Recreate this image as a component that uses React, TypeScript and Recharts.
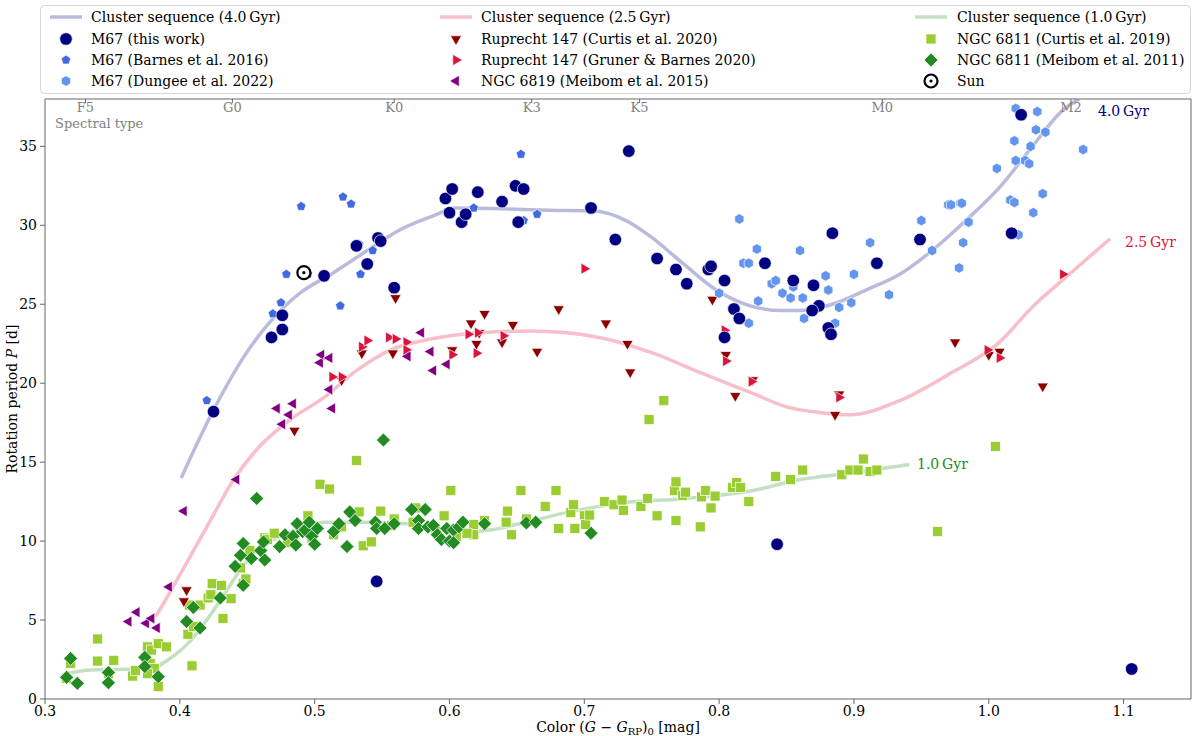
import React from 'react';
import { ComposedChart, Scatter, Line, XAxis, YAxis } from 'recharts';

type P = [number, number];

// ---------- data (color G-G_RP, period d) ----------
const m67ThisWork: P[] = [
  [0.425, 18.2], [0.468, 22.9], [0.476, 23.4], [0.476, 24.3], [0.507, 26.8], [0.531, 28.7],
  [0.539, 27.55], [0.547, 29.2], [0.549, 29.0], [0.559, 26.05], [0.546, 7.45], [0.597, 31.7],
  [0.602, 32.3], [0.600, 30.8], [0.609, 30.2], [0.612, 30.7], [0.621, 32.1], [0.639, 31.5],
  [0.649, 32.5], [0.655, 32.3], [0.651, 30.2], [0.705, 31.1], [0.733, 34.7], [0.723, 29.1],
  [0.754, 27.9], [0.768, 27.2], [0.776, 26.3], [0.792, 27.2], [0.794, 27.4], [0.804, 26.5],
  [0.811, 24.7], [0.815, 24.1], [0.804, 22.9], [0.834, 27.6], [0.855, 26.5], [0.843, 9.8],
  [0.870, 26.2], [0.874, 24.9], [0.869, 24.6], [0.881, 23.5], [0.883, 23.1], [0.884, 29.5],
  [0.917, 27.6], [0.949, 29.1], [1.017, 29.5], [1.024, 37.0], [1.106, 1.9],
];
const m67Barnes: P[] = [
  [0.420, 18.9], [0.469, 24.4], [0.475, 25.1], [0.479, 26.9], [0.490, 31.2], [0.495, 26.9],
  [0.519, 24.9], [0.521, 31.8], [0.527, 31.35], [0.534, 26.9], [0.543, 28.4], [0.533, 28.8],
  [0.618, 31.1], [0.653, 34.5], [0.655, 30.3], [0.665, 30.7], [0.650, 30.3],
];
const m67Dungee: P[] = [
  [0.795, 27.5], [0.800, 25.7], [0.815, 30.4], [0.818, 27.6], [0.822, 27.6], [0.822, 23.8],
  [0.828, 28.5], [0.829, 25.2], [0.839, 26.3], [0.842, 26.5], [0.847, 25.7], [0.853, 25.4],
  [0.855, 26.1], [0.860, 28.4], [0.862, 25.4], [0.863, 24.1], [0.879, 26.8], [0.881, 25.9],
  [0.889, 24.8], [0.886, 23.8], [0.898, 25.1], [0.900, 26.9], [0.912, 28.9], [0.926, 25.6],
  [0.950, 30.3], [0.958, 28.4], [0.970, 31.3], [0.972, 31.3], [0.979, 31.4], [0.980, 31.4],
  [0.985, 30.2], [0.981, 28.9], [0.978, 27.3], [1.006, 33.6], [1.016, 31.6], [1.019, 31.45],
  [1.022, 29.4], [1.033, 30.8], [1.040, 32.0], [1.020, 34.1], [1.027, 34.1], [1.030, 33.9],
  [1.031, 35.0], [1.019, 35.35], [1.035, 36.05], [1.042, 35.9], [1.036, 37.2], [1.020, 37.4],
  [1.070, 34.8],
];
const ru147Curtis: P[] = [
  [0.403, 6.2], [0.405, 6.9], [0.485, 17.0], [0.520, 20.2], [0.535, 21.9], [0.558, 21.9],
  [0.560, 25.4], [0.602, 22.1], [0.616, 23.8], [0.620, 22.5], [0.622, 23.2], [0.626, 24.4],
  [0.639, 22.6], [0.647, 23.7], [0.665, 22.0], [0.681, 24.7], [0.716, 23.8], [0.732, 22.5],
  [0.734, 20.7], [0.795, 25.3], [0.805, 21.8], [0.812, 19.2], [0.825, 20.2], [0.886, 18.0],
  [0.889, 19.3], [0.975, 22.6], [1.000, 21.8], [1.008, 22.0], [1.040, 19.8],
];
const ru147Gruner: P[] = [
  [0.513, 20.4], [0.520, 20.4], [0.535, 22.3], [0.539, 22.7], [0.555, 22.9], [0.560, 22.8],
  [0.568, 22.6], [0.568, 22.1], [0.602, 21.8], [0.614, 23.1], [0.621, 23.2], [0.620, 21.9],
  [0.640, 23.0], [0.700, 27.25], [0.804, 23.35], [0.805, 21.4], [0.824, 20.1], [0.889, 19.1],
  [0.999, 22.1], [1.008, 21.6], [1.055, 26.9],
];
const ngc6819Meibom: P[] = [
  [0.362, 4.9], [0.368, 5.5], [0.375, 4.8], [0.379, 5.1], [0.383, 4.5], [0.392, 7.1],
  [0.403, 11.9], [0.442, 13.9], [0.472, 18.4], [0.476, 17.4], [0.481, 18.0], [0.484, 18.7],
  [0.504, 21.3], [0.505, 21.8], [0.511, 21.6], [0.511, 19.6], [0.513, 18.4], [0.569, 21.7],
  [0.579, 23.2], [0.586, 22.0], [0.588, 20.8], [0.598, 21.2],
];
const ngc6811Curtis: P[] = [
  [0.316, 1.3], [0.319, 2.26], [0.339, 3.8], [0.339, 2.4], [0.351, 2.45], [0.347, 1.6],
  [0.365, 1.45], [0.367, 1.8], [0.376, 3.3], [0.379, 3.1], [0.384, 3.5], [0.390, 3.3],
  [0.378, 2.26], [0.381, 1.94], [0.384, 0.78], [0.376, 1.6], [0.409, 2.1], [0.406, 4.1],
  [0.410, 4.6], [0.415, 5.95], [0.407, 5.95], [0.421, 6.4], [0.424, 7.3], [0.431, 7.2],
  [0.438, 6.35], [0.432, 5.1], [0.423, 6.6], [0.447, 7.3], [0.445, 8.3], [0.449, 7.6],
  [0.452, 9.4], [0.463, 10.2], [0.465, 10.1], [0.470, 10.5], [0.480, 9.9], [0.490, 10.9],
  [0.495, 11.6], [0.498, 10.2], [0.504, 13.6], [0.511, 13.3], [0.520, 10.9], [0.531, 15.1],
  [0.533, 11.85], [0.549, 11.9], [0.536, 9.7], [0.542, 9.95], [0.557, 11.0], [0.559, 11.4],
  [0.514, 10.4], [0.573, 11.2], [0.575, 12.1], [0.590, 10.6], [0.596, 11.6], [0.605, 10.3],
  [0.601, 13.2], [0.618, 11.05], [0.618, 10.4], [0.613, 10.5], [0.626, 11.3], [0.643, 11.9],
  [0.642, 11.2], [0.646, 10.4], [0.653, 13.2], [0.657, 11.4], [0.671, 12.2], [0.679, 13.2],
  [0.681, 10.8], [0.690, 11.8], [0.692, 12.3], [0.693, 10.8], [0.700, 11.6], [0.701, 11.05],
  [0.704, 11.65], [0.715, 12.5], [0.722, 12.3], [0.728, 12.6], [0.729, 11.95], [0.742, 12.2],
  [0.747, 12.7], [0.748, 17.7], [0.754, 11.6], [0.759, 18.9], [0.767, 13.2], [0.768, 13.75],
  [0.768, 11.3], [0.773, 12.9], [0.775, 13.1], [0.786, 10.9], [0.787, 12.8], [0.790, 13.2],
  [0.794, 12.1], [0.797, 12.85], [0.810, 13.4], [0.813, 13.7], [0.816, 13.4], [0.822, 12.5],
  [0.842, 14.1], [0.853, 13.9], [0.862, 14.5], [0.891, 14.2], [0.897, 14.5], [0.903, 14.5],
  [0.907, 15.2], [0.912, 14.4], [0.917, 14.5], [0.962, 10.6], [1.005, 16.0],
];
const ngc6811Meibom: P[] = [
  [0.316, 1.37], [0.319, 2.57], [0.324, 0.99], [0.347, 1.68], [0.347, 1.03], [0.374, 2.64],
  [0.374, 2.05], [0.384, 1.41], [0.405, 4.9], [0.410, 5.8], [0.415, 4.5], [0.430, 6.4],
  [0.447, 7.2], [0.441, 8.4], [0.445, 9.1], [0.447, 9.85], [0.453, 8.9], [0.460, 9.4],
  [0.462, 9.95], [0.463, 8.8], [0.457, 12.7], [0.474, 9.65], [0.478, 10.4], [0.484, 10.3],
  [0.486, 9.75], [0.487, 11.1], [0.491, 10.6], [0.493, 10.7], [0.496, 11.2], [0.498, 10.3],
  [0.500, 9.8], [0.502, 10.8], [0.514, 10.6], [0.518, 11.1], [0.524, 9.65], [0.526, 11.85],
  [0.530, 11.3], [0.545, 11.2], [0.546, 10.8], [0.551, 16.4], [0.552, 10.8], [0.559, 11.1],
  [0.572, 12.0], [0.577, 11.3], [0.577, 10.8], [0.582, 12.0], [0.584, 10.9], [0.588, 11.0],
  [0.591, 10.4], [0.594, 10.1], [0.600, 10.0], [0.598, 10.8], [0.603, 10.7], [0.603, 9.9],
  [0.607, 10.9], [0.610, 11.2], [0.626, 11.1], [0.657, 11.15], [0.664, 11.2], [0.705, 10.5],
];
const sun: P[] = [[0.492, 27.0]];

const seq40: P[] = [
  [0.401, 14.0], [0.425, 18.3], [0.450, 22.0], [0.465, 23.7], [0.489, 25.7], [0.514, 27.0],
  [0.539, 28.4], [0.563, 29.7], [0.588, 30.6], [0.605, 31.1], [0.637, 31.05], [0.674, 30.95],
  [0.707, 30.9], [0.731, 30.3], [0.749, 29.3], [0.773, 27.6], [0.798, 25.9], [0.823, 24.9],
  [0.847, 24.6], [0.860, 24.6], [0.884, 25.0], [0.909, 25.9], [0.934, 26.9], [0.958, 28.4],
  [0.983, 30.3], [1.008, 32.4], [1.032, 34.96], [1.055, 37.3], [1.067, 38.0],
];
const seq25: P[] = [
  [0.382, 5.2], [0.395, 7.1], [0.420, 10.9], [0.440, 13.9], [0.457, 15.8], [0.482, 17.7],
  [0.507, 19.1], [0.531, 20.8], [0.556, 22.1], [0.586, 22.8], [0.623, 23.2], [0.660, 23.3],
  [0.711, 22.9], [0.751, 21.9], [0.788, 20.6], [0.825, 19.35], [0.850, 18.5], [0.874, 18.15],
  [0.897, 18.0], [0.934, 18.9], [0.971, 20.6], [1.008, 22.6], [1.032, 24.8], [1.057, 26.7],
  [1.090, 29.15],
];
const seq10: P[] = [
  [0.316, 1.6], [0.334, 1.84], [0.358, 1.88], [0.378, 1.94], [0.395, 2.7], [0.408, 3.7],
  [0.420, 5.0], [0.432, 6.5], [0.445, 8.2], [0.457, 9.4], [0.474, 10.3], [0.494, 10.9],
  [0.507, 11.2], [0.544, 11.2], [0.568, 11.1], [0.593, 10.75], [0.613, 10.6], [0.630, 10.7],
  [0.652, 11.1], [0.689, 11.85], [0.726, 12.4], [0.776, 12.7], [0.825, 13.2], [0.860, 13.9],
  [0.897, 14.3], [0.941, 14.85],
];

// ---------- axes ----------
const xMajor = [0.3, 0.4, 0.5, 0.6, 0.7, 0.8, 0.9, 1.0, 1.1];
const xMinor = [0.32, 0.34, 0.36, 0.38, 0.42, 0.44, 0.46, 0.48, 0.52, 0.54, 0.56, 0.58, 0.62, 0.64,
  0.66, 0.68, 0.72, 0.74, 0.76, 0.78, 0.82, 0.84, 0.86, 0.88, 0.92, 0.94, 0.96, 0.98, 1.02, 1.04,
  1.06, 1.08, 1.12, 1.14];
const yMajor = [0, 5, 10, 15, 20, 25, 30, 35];
const yMinor = [1, 2, 3, 4, 6, 7, 8, 9, 11, 12, 13, 14, 16, 17, 18, 19, 21, 22, 23, 24, 26, 27, 28, 29,
  31, 32, 33, 34, 36, 37];
const spectralTypes = ['F5', 'G0', 'K0', 'K3', 'K5', 'M0', 'M2'];
const spectralColors = [0.330, 0.439, 0.559, 0.661, 0.741, 0.921, 1.061];

const X_DOMAIN: [number, number] = [0.3, 1.15];
const Y_DOMAIN: [number, number] = [0, 38];
// invisible anchors so the helper (tick-only) axes get a domain
const axisAnchors: P[] = [[0.3, 0], [1.15, 38]];
const THIN = 0.01;

const FONT = '"DejaVu Serif", serif';
const SPINE = '#666666';
const C = {
  navy: '#000080', royal: '#4169E1', cornflower: '#6495ED', darkred: '#8B0000',
  crimson: '#DC143C', purple: '#800080', yellowgreen: '#9ACD32', forest: '#228B22',
};

const toXY = (arr: P[]) => arr.map(([x, y]) => ({ x, y }));

// ---------- marker shapes ----------
const poly = (cx: number, cy: number, r: number, n: number, rot: number) => {
  const pts: string[] = [];
  for (let i = 0; i < n; i++) {
    const a = ((rot + (360 / n) * i) * Math.PI) / 180;
    pts.push(`${cx + r * Math.cos(a)},${cy + r * Math.sin(a)}`);
  }
  return pts.join(' ');
};
const EDGE = { stroke: '#ffffff', strokeWidth: 0.7 };
const mk = {
  circle: (cx: number, cy: number) => <circle cx={cx} cy={cy} r={6.3} fill={C.navy} {...EDGE} />,
  pent: (cx: number, cy: number) => <polygon points={poly(cx, cy, 5, 5, -90)} fill={C.royal} {...EDGE} />,
  hex: (cx: number, cy: number) => <polygon points={poly(cx, cy, 5.3, 6, -90)} fill={C.cornflower} {...EDGE} />,
  down: (cx: number, cy: number) => <polygon points={poly(cx, cy, 6.5, 3, 90)} fill={C.darkred} {...EDGE} />,
  right: (cx: number, cy: number) => <polygon points={poly(cx, cy, 6.5, 3, 0)} fill={C.crimson} {...EDGE} />,
  left: (cx: number, cy: number) => <polygon points={poly(cx, cy, 6.5, 3, 180)} fill={C.purple} {...EDGE} />,
  square: (cx: number, cy: number) => <rect x={cx - 5} y={cy - 5} width={10} height={10} fill={C.yellowgreen} {...EDGE} />,
  diamond: (cx: number, cy: number) => <polygon points={poly(cx, cy, 7, 4, -90)} fill={C.forest} {...EDGE} />,
  sun: (cx: number, cy: number) => (
    <g>
      <circle cx={cx} cy={cy} r={6.5} fill="#ffffff" stroke="#000" strokeWidth={2.2} />
      <circle cx={cx} cy={cy} r={1.6} fill="#000" />
    </g>
  ),
};
const shapeOf = (f: (cx: number, cy: number) => React.ReactElement) => (props: any) =>
  props.cx == null ? <g /> : f(props.cx, props.cy);
const noShape = () => <g />;

const spectralTick = (p: any) => {
  const v = p.payload ? p.payload.value : undefined;
  let i = spectralColors.findIndex((c) => Math.abs(c - v) < 1e-6);
  if (i < 0) i = p.index;
  return (
    <text x={p.x} y={99 + 13} textAnchor="middle" fontFamily={FONT} fontSize={13} fill="#808080">
      {spectralTypes[i]}
    </text>
  );
};

const legendRows: { col: number; row: number; label: string; kind: string }[] = [
  { col: 0, row: 0, label: 'Cluster sequence (4.0\u2009Gyr)', kind: 'l40' },
  { col: 0, row: 1, label: 'M67 (this work)', kind: 'circle' },
  { col: 0, row: 2, label: 'M67 (Barnes et al. 2016)', kind: 'pent' },
  { col: 0, row: 3, label: 'M67 (Dungee et al. 2022)', kind: 'hex' },
  { col: 1, row: 0, label: 'Cluster sequence (2.5\u2009Gyr)', kind: 'l25' },
  { col: 1, row: 1, label: 'Ruprecht 147 (Curtis et al. 2020)', kind: 'down' },
  { col: 1, row: 2, label: 'Ruprecht 147 (Gruner & Barnes 2020)', kind: 'right' },
  { col: 1, row: 3, label: 'NGC 6819 (Meibom et al. 2015)', kind: 'left' },
  { col: 2, row: 0, label: 'Cluster sequence (1.0\u2009Gyr)', kind: 'l10' },
  { col: 2, row: 1, label: 'NGC 6811 (Curtis et al. 2019)', kind: 'square' },
  { col: 2, row: 2, label: 'NGC 6811 (Meibom et al. 2011)', kind: 'diamond' },
  { col: 2, row: 3, label: 'Sun', kind: 'sun' },
];
const colHandle = [66, 456, 931];
const colText = [91, 481, 957];
const rowY = [17, 39, 60, 81];
const lineColor: Record<string, string> = { l40: C.navy, l25: C.crimson, l10: C.forest };

const Overlay = () => (
  <svg width={1200} height={736} style={{ position: 'absolute', left: 0, top: 0, pointerEvents: 'none' }}>
    <rect x={40.5} y={5.5} width={1150} height={88} rx={4} fill="#ffffff" fillOpacity={0.85} stroke="#d6d6d6" />
    {legendRows.map((r, i) => {
      const hx = colHandle[r.col];
      const y = rowY[r.row];
      let handle: React.ReactElement;
      if (r.kind in lineColor) {
        handle = <line x1={hx - 16} x2={hx + 16} y1={y} y2={y} stroke={lineColor[r.kind]} strokeOpacity={0.27} strokeWidth={3.5} />;
      } else {
        handle = (mk as any)[r.kind](hx, y);
      }
      return (
        <g key={i}>
          {handle}
          <text x={colText[r.col]} y={y + 5} fontFamily={FONT} fontSize={14} fill="#000">{r.label}</text>
        </g>
      );
    })}
    <text x={55} y={128} fontFamily={FONT} fontSize={13} fill="#808080">Spectral type</text>
    <text x={1098} y={116} fontFamily={FONT} fontSize={14} fill={C.navy}>4.0{'\u2009'}Gyr</text>
    <text x={1125} y={247} fontFamily={FONT} fontSize={14} fill={C.crimson}>2.5{'\u2009'}Gyr</text>
    <text x={917} y={469} fontFamily={FONT} fontSize={14} fill={C.forest}>1.0{'\u2009'}Gyr</text>
    <text x={618} y={732} textAnchor="middle" fontFamily={FONT} fontSize={14} fill="#000">
      Color (<tspan fontStyle="italic">G</tspan> − <tspan fontStyle="italic">G</tspan>
      <tspan fontSize={10} dy={3}>RP</tspan><tspan dy={-3}>)</tspan>
      <tspan fontSize={10} dy={3}>0</tspan><tspan dy={-3}> [mag]</tspan>
    </text>
    <text x={0} y={0} transform="translate(17,399) rotate(-90)" textAnchor="middle" fontFamily={FONT} fontSize={14} fill="#000">
      Rotation period <tspan fontStyle="italic">P</tspan> [d]
    </text>
  </svg>
);

const scatterSeries: { name: string; data: P[]; shape: (cx: number, cy: number) => React.ReactElement }[] = [
  { name: 'NGC 6811 (Curtis et al. 2019)', data: ngc6811Curtis, shape: mk.square },
  { name: 'NGC 6811 (Meibom et al. 2011)', data: ngc6811Meibom, shape: mk.diamond },
  { name: 'Ruprecht 147 (Curtis et al. 2020)', data: ru147Curtis, shape: mk.down },
  { name: 'Ruprecht 147 (Gruner & Barnes 2020)', data: ru147Gruner, shape: mk.right },
  { name: 'NGC 6819 (Meibom et al. 2015)', data: ngc6819Meibom, shape: mk.left },
  { name: 'M67 (Dungee et al. 2022)', data: m67Dungee, shape: mk.hex },
  { name: 'M67 (Barnes et al. 2016)', data: m67Barnes, shape: mk.pent },
  { name: 'M67 (this work)', data: m67ThisWork, shape: mk.circle },
  { name: 'Sun', data: sun, shape: mk.sun },
];
const curves: { name: string; data: P[]; color: string }[] = [
  { name: 'Cluster sequence (1.0 Gyr)', data: seq10, color: C.forest },
  { name: 'Cluster sequence (2.5 Gyr)', data: seq25, color: C.crimson },
  { name: 'Cluster sequence (4.0 Gyr)', data: seq40, color: C.navy },
];

export default function App() {
  return (
    <div style={{ position: 'absolute', left: 0, top: 0, width: 1200, height: 736, background: '#fff' }}>
      <ComposedChart width={1200} height={736} margin={{ top: 99, right: 9, bottom: 37, left: 45 }}>
        <XAxis xAxisId="minor" dataKey="x" type="number" domain={X_DOMAIN} allowDataOverflow ticks={xMinor} interval={0}
          tick={false} axisLine={false} tickSize={3} height={THIN} tickLine={{ stroke: SPINE }} />
        <XAxis xAxisId="x" dataKey="x" type="number" domain={X_DOMAIN} allowDataOverflow ticks={xMajor} interval={0}
          height={THIN} tickSize={5} tickMargin={2} axisLine={{ stroke: SPINE }} tickLine={{ stroke: SPINE }}
          tickFormatter={(v: number) => v.toFixed(1)}
          tick={{ fill: '#000', fontSize: 14, fontFamily: FONT }} />
        <XAxis xAxisId="top" dataKey="x" orientation="top" type="number" domain={X_DOMAIN} allowDataOverflow
          ticks={spectralColors} interval={0} mirror height={THIN} tickSize={4} axisLine={{ stroke: SPINE }}
          tickLine={{ stroke: SPINE }} tick={spectralTick} />
        <YAxis yAxisId="minor" dataKey="y" type="number" domain={Y_DOMAIN} allowDataOverflow ticks={yMinor} interval={0}
          tick={false} axisLine={false} tickSize={3} width={THIN} tickLine={{ stroke: SPINE }} />
        <YAxis yAxisId="y" dataKey="y" type="number" domain={Y_DOMAIN} allowDataOverflow ticks={yMajor} interval={0}
          width={THIN} tickSize={5} tickMargin={3} axisLine={{ stroke: SPINE }} tickLine={{ stroke: SPINE }}
          tick={{ fill: '#000', fontSize: 14, fontFamily: FONT }} />
        <YAxis yAxisId="right" dataKey="y" orientation="right" type="number" domain={Y_DOMAIN} allowDataOverflow
          ticks={yMajor} interval={0} mirror tick={false} width={THIN} tickSize={5} axisLine={{ stroke: SPINE }}
          tickLine={{ stroke: SPINE }} />
        <YAxis yAxisId="rightminor" dataKey="y" orientation="right" type="number" domain={Y_DOMAIN} allowDataOverflow
          ticks={yMinor} interval={0} mirror tick={false} width={THIN} tickSize={3} axisLine={false}
          tickLine={{ stroke: SPINE }} />
        <Scatter name="anchor-a" data={toXY(axisAnchors)} xAxisId="minor" yAxisId="minor" shape={noShape}
          isAnimationActive={false} legendType="none" />
        <Scatter name="anchor-b" data={toXY(axisAnchors)} xAxisId="top" yAxisId="right" shape={noShape}
          isAnimationActive={false} legendType="none" />
        <Scatter name="anchor-c" data={toXY(axisAnchors)} xAxisId="top" yAxisId="rightminor" shape={noShape}
          isAnimationActive={false} legendType="none" />
        {scatterSeries.map((s) => (
          <Scatter key={s.name} name={s.name} data={toXY(s.data)} xAxisId="x" yAxisId="y"
            shape={shapeOf(s.shape)} isAnimationActive={false} />
        ))}
        {curves.map((c) => (
          <Line key={c.name} name={c.name} data={toXY(c.data)} dataKey="y" xAxisId="x" yAxisId="y"
            type="monotone" dot={false} activeDot={false} stroke={c.color} strokeOpacity={0.27} strokeWidth={3.5}
            isAnimationActive={false} />
        ))}
      </ComposedChart>
      <Overlay />
    </div>
  );
}
